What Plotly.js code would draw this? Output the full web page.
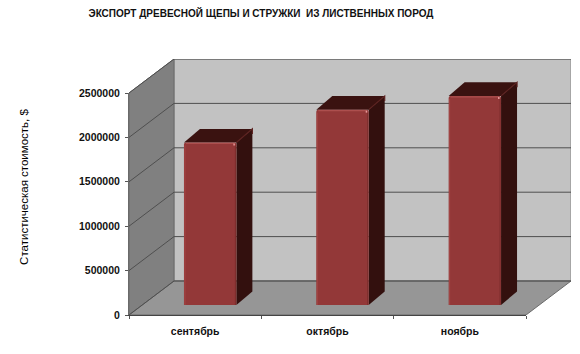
<!DOCTYPE html>
<html>
<head>
<meta charset="utf-8">
<script src="https://cdn.plot.ly/plotly-3.0.1.min.js"></script>
<style>html,body{margin:0;padding:0;background:#fff}</style>
</head>
<body>
<div id="chart" style="width:580px;height:354px"></div>
<script>
const categories = ['сентябрь', 'октябрь', 'ноябрь'];
const values = [1830000, 2200000, 2355000];
const yTicks = [0, 500000, 1000000, 1500000, 2000000, 2500000];
const chartTitle = 'ЭКСПОРТ ДРЕВЕСНОЙ ЩЕПЫ И СТРУЖКИ  ИЗ ЛИСТВЕННЫХ ПОРОД';
const yTitle = 'Статистическая стоимость, $';

const FONT = '"Liberation Sans", Arial, sans-serif';
// Plot box and 3D projection, in pixels
const M = {l: 129, r: 9, t: 59, b: 39};
const W = 580 - M.l - M.r, H = 354 - M.t - M.b;
const frontW = 397, frontH = 222, depthX = 45, depthY = 34;
const barShiftX = 15, barShiftY = 10, barDepthX = 16, barDepthY = 13.6, barFrac = 0.396;
const yMax = yTicks[yTicks.length - 1];
// pixel -> data unit factors of the scene axes
const ux = categories.length / frontW, uy = yMax / frontH;
const xL = -0.5, xR = categories.length - 0.5;
const dX = depthX * ux, dY = depthY * uy;

function poly(pts, fill, lineColor, lineWidth, layer) {
  return {type: 'path', xref: 'x', yref: 'y', layer: layer || 'below',
    path: 'M' + pts.map(p => p[0] + ',' + p[1]).join('L') + (fill ? 'Z' : ''),
    fillcolor: fill || 'rgba(0,0,0,0)',
    line: {color: lineColor || 'rgba(0,0,0,0)', width: lineWidth === undefined ? 0 : lineWidth}};
}
const shapes = [];
// back wall, left wall, floor
shapes.push(poly([[xL + dX, dY], [xR + dX, dY], [xR + dX, yMax + dY], [xL + dX, yMax + dY]], '#c2c2c2', '#8a8a8a', 1));
shapes.push(poly([[xL, 0], [xL + dX, dY], [xL + dX, yMax + dY], [xL, yMax]], '#808080', '#6a6a6a', 1));
shapes.push(poly([[xL, 0], [xR, 0], [xR + dX, dY], [xL + dX, dY]], '#969696', '#6a6a6a', 1));
// gridlines wrap the left and back walls
yTicks.forEach(t => shapes.push(poly([[xL, t], [xL + dX, t + dY], [xR + dX, t + dY]], null, '#4f4f4f', 1)));
// bar side and top faces, projected from the data
values.forEach((v, i) => {
  const a = i - barFrac / 2 + barShiftX * ux, b = i + barFrac / 2 + barShiftX * ux;
  const y0 = barShiftY * uy, y1 = v + barShiftY * uy;
  const ddx = barDepthX * ux, ddy = barDepthY * uy;
  shapes.push(poly([[b, y0], [b + ddx, y0 + ddy], [b + ddx, y1 + ddy], [b, y1]], '#33100e'));
  shapes.push(poly([[a, y1], [b, y1], [b + ddx, y1 + ddy], [a + ddx, y1 + ddy]], '#3a1210'));
  // bevel highlights
  shapes.push(poly([[b, y1], [b + ddx, y1 + ddy], [b + ddx, y1 + ddy - 5 * uy]], null, '#5c2220', 1.2, 'above'));
  shapes.push(poly([[a + 2 * ux, y1 - 1 * uy], [b - 2 * ux, y1 - 1 * uy]], null, '#ad4f4e', 1.2, 'above'));
  shapes.push(poly([[b - 1 * ux, y1 - 3 * uy], [b - 1 * ux, y0]], null, '#7c2e2d', 1, 'above'));
  shapes.push(poly([[a + 1 * ux, y1 - 3 * uy], [a + 1 * ux, y0]], null, '#a34544', 1, 'above'));
  shapes.push(poly([[b - 3 * ux, y1 - 2 * uy], [b - 1.5 * ux, y1 - 2 * uy]], null, '#e89a9a', 2, 'above'));
});

const traces = [
  // keeps the scene subplot alive
  {type: 'scatter', mode: 'none', x: [0], y: [0], xaxis: 'x', yaxis: 'y', hoverinfo: 'skip', showlegend: false},
  // front axes carrying category ticks and labels
  {type: 'bar', x: categories, y: values, xaxis: 'x2', yaxis: 'y2', opacity: 0, hoverinfo: 'skip', showlegend: false},
  // the visible bars, set back from the front plane
  {type: 'bar', x: categories, y: values, xaxis: 'x3', yaxis: 'y3', showlegend: false,
   marker: {color: '#933838', cornerradius: 2, line: {width: 0}}, hoverinfo: 'x+y'}
];

const hidden = {visible: false, fixedrange: true};
const layout = {
  width: 580, height: 354, margin: M, paper_bgcolor: '#fff', plot_bgcolor: 'rgba(0,0,0,0)',
  showlegend: false, bargap: 1 - barFrac, shapes: shapes,
  font: {family: FONT, color: '#000'},
  title: {text: chartTitle, font: {family: FONT, size: 10, weight: 'bold', color: '#111'},
          x: 261 / 580, xanchor: 'center', y: 1 - 13 / 354, yanchor: 'middle', xref: 'container', yref: 'container'},
  xaxis: Object.assign({}, hidden, {domain: [0, 1], range: [xL, xL + W * ux]}),
  // scene y axis is centred on the wall height, so it carries the axis title
  yaxis: {domain: [0, 1], range: [0, H * uy], fixedrange: true, showticklabels: false, ticks: '', showgrid: false,
    zeroline: false, showline: false,
    title: {text: yTitle, standoff: 96, font: {family: FONT, size: 11.5, color: '#000'}}},
  xaxis2: {domain: [0, frontW / W], anchor: 'y2', type: 'category', range: [xL, xR], tickson: 'boundaries',
    ticks: 'outside', ticklen: 3, tickcolor: '#555', showgrid: false, zeroline: false,
    showline: true, linecolor: '#444', linewidth: 1, fixedrange: true,
    tickfont: {family: FONT, size: 10.5, weight: 'bold', color: '#111'}, ticklabelstandoff: 6},
  yaxis2: {domain: [0, frontH / H], anchor: 'x2', range: [0, yMax], tickmode: 'array', tickvals: yTicks,
    ticktext: yTicks.map(String), ticks: 'outside', ticklen: 3, tickcolor: '#555', showgrid: false, zeroline: false,
    showline: true, linecolor: '#6a6a6a', fixedrange: true,
    tickfont: {family: FONT, size: 10.5, weight: 'bold', color: '#111'}, ticklabelstandoff: 3},
  xaxis3: Object.assign({}, hidden, {domain: [barShiftX / W, (barShiftX + frontW) / W], anchor: 'y3', type: 'category', range: [xL, xR]}),
  yaxis3: Object.assign({}, hidden, {domain: [barShiftY / H, (barShiftY + frontH) / H], anchor: 'x3', range: [0, yMax]})
};
Plotly.newPlot('chart', traces, layout, {displayModeBar: false, staticPlot: true});
</script>
</body>
</html>
